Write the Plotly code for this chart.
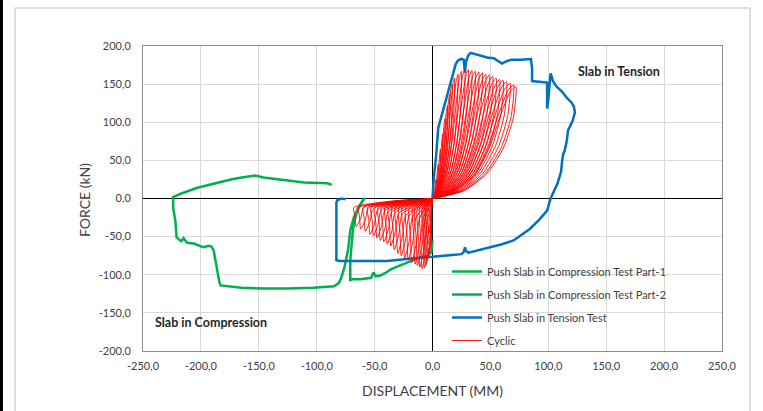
import plotly.graph_objects as go

# ---------------- data ----------------
X_TICKS = [-250, -200, -150, -100, -50, 0, 50, 100, 150, 200, 250]
X_TICK_TEXT = ["-250,0", "-200,0", "-150,0", "-100,0", "-50,0", "0,0", "50,0", "100,0", "150,0", "200,0", "250,0"]
Y_TICKS = [-200, -150, -100, -50, 0, 50, 100, 150, 200]
Y_TICK_TEXT = ["-200,0", "-150,0", "-100,0", "-50,0", "0,0", "50,0", "100,0", "150,0", "200,0"]

comp1_x = [-59, -64, -68, -71, -73, -76, -79, -81, -85, -103, -125, -146, -165, -178, -183, -184, -187, -189,
           -191, -193, -198, -206, -212, -215, -217, -221, -222, -224, -224, -217, -203, -189, -174, -165,
           -153, -146, -131, -111, -91, -87]
comp1_y = [0, -12, -25, -42, -68, -90, -105, -111, -115, -117, -118, -118, -117, -115, -114, -110, -81, -68,
           -63, -62, -64, -59, -58, -52, -56, -51, -30, -12, 2, 6.5, 14, 19.6, 25, 27.5,
           30, 27.5, 25, 21, 20, 18]

comp2_x = [-59, -65, -68, -69, -71, -71, -69, -62, -53, -51, -49, -45, -40, -36, -30, -22, -10, -4, -1, 0]
comp2_y = [1, -16, -33, -46, -81, -107, -106, -106, -104, -97, -102, -101, -97, -93, -89, -84, -77, -75, -70, -55]

tension_x = [0, 1, 3, 5, 9, 13, 16, 18, 20, 22, 25, 27, 28, 29, 31, 33, 37, 41, 47, 53, 57, 60, 64, 68, 76, 85,
             86, 86, 92, 99, 99, 99, 100, 101, 102, 104, 107, 112, 116, 120, 122, 123, 121, 117, 116, 114, 113,
             112, 111, 108, 104, 102, 99, 92, 84, 70, 60, 50, 40, 31, 29, 28, 27, 25, 10, -2, -20, -39, -60,
             -80, -83, -83, -83, -83, -82, -79, -75]
tension_y = [0, 25, 54, 93, 115, 137, 155, 168, 176, 181, 183, 182, 165, 180, 188, 191, 189, 187, 185, 184, 180,
             177, 180, 182, 182, 183, 170, 154, 153, 152, 135, 118, 130, 150, 164, 154, 147, 140, 132, 126, 121,
             113, 102, 89, 76, 62, 59, 50, 35, 20, 8, 0, -16, -28, -40, -55, -60, -64, -67, -71, -69, -64, -70,
             -73, -75, -77, -79, -82, -82, -82, -81, -60, -30, -5, -2, 0, -1]

# cyclic test: one row per cycle (positive loop, then negative loop), starting from the origin
cyc_x_rows = [
    [0.6, 1.5, 2, 2.5, 2.8, 3, 2.9, 2.6, 2, 1.1, 0, -1, -4, -3, -2, -1, -1, 0],
    [1, 2.5, 3.4, 4.1, 4.7, 5, 4.9, 4.3, 3.3, 1.9, 0, -1.5, -5, -4, -3, -1, -1, 0],
    [1.4, 3.5, 4.8, 5.7, 6.5, 7, 6.8, 6, 4.6, 2.7, 0, -2, -6, -5, -4, -1, -1, 0],
    [1.8, 4.5, 6.1, 7.4, 8.4, 9, 8.7, 7.7, 5.9, 3.4, 0, -2, -6, -5, -4, -1, -1, 0],
    [2.2, 5.5, 7.5, 9, 10.2, 11, 10.7, 9.4, 7.2, 4.2, 0, -2.5, -7, -6, -5, -1, -1, 0],
    [2.6, 6.5, 8.8, 10.7, 12.1, 13, 12.6, 11.1, 8.5, 4.9, 0, -3, -8, -7, -6, -2, -1, 0],
    [3, 7.5, 10.2, 12.3, 14, 15, 14.6, 12.8, 9.8, 5.7, 0, -3.5, -9, -8, -7, -3, -1, 0],
    [3.4, 8.5, 11.6, 13.9, 15.8, 17, 16.5, 14.5, 11.1, 6.5, 0, -4.5, -11, -10, -9, -5, -2, 0],
    [3.8, 9.5, 12.9, 15.6, 17.7, 19, 18.4, 16.2, 12.4, 7.2, 0, -5.5, -13, -12, -11, -7, -4, 0],
    [4.4, 11, 15, 18, 20.5, 22, 21.3, 18.7, 14.3, 8.4, 0, -6.5, -15, -14, -13, -9, -6, 0],
    [5, 12.5, 17, 20.5, 23.3, 25, 24.3, 21.3, 16.3, 9.5, 0, -7.5, -17, -16, -15, -11, -8, 0],
    [5.6, 14, 19, 23, 26, 28, 27.2, 23.8, 18.2, 10.6, 0, -9, -20, -19, -18, -14, -11, 0],
    [6.2, 15.5, 21.1, 25.4, 28.8, 31, 30.1, 26.4, 20.2, 11.8, 0, -10.5, -23, -22, -21, -17, -14, 0],
    [6.8, 17, 23.1, 27.9, 31.6, 34, 33, 28.9, 22.1, 12.9, 0, -12, -26, -25, -24, -20, -17, 0],
    [7.4, 18.5, 25.2, 30.3, 34.4, 37, 35.9, 31.5, 24.1, 14.1, 0, -13.5, -29, -28, -27, -23, -20, 0],
    [8, 20, 27.2, 32.8, 37.2, 40, 38.8, 34, 26, 15.2, 0, -15, -32, -31, -30, -26, -23, 0],
    [8.6, 21.5, 29.2, 35.3, 40, 43, 41.7, 36.6, 28, 16.3, 0, -16.5, -35, -34, -33, -29, -26, 0],
    [9.2, 23, 31.3, 37.7, 42.8, 46, 44.6, 39.1, 29.9, 17.5, 0, -18, -38, -37, -36, -32, -29, 0],
    [9.8, 24.5, 33.3, 40.2, 45.6, 49, 47.5, 41.7, 31.9, 18.6, 0, -19.5, -41, -40, -39, -35, -32, 0],
    [10.4, 26, 35.4, 42.6, 48.4, 52, 50.4, 44.2, 33.8, 19.8, 0, -21, -44, -43, -42, -38, -35, 0],
    [11, 27.5, 37.4, 45.1, 51.2, 55, 53.4, 46.8, 35.8, 20.9, 0, -22.5, -47, -46, -45, -41, -38, 0],
    [11.6, 29, 39.4, 47.6, 53.9, 58, 56.3, 49.3, 37.7, 22, 0, -24, -50, -49, -48, -44, -41, 0],
    [12.2, 30.5, 41.5, 50, 56.7, 61, 59.2, 51.9, 39.7, 23.2, 0, -25.5, -53, -52, -51, -47, -44, 0],
    [12.8, 32, 43.5, 52.5, 59.5, 64, 62.1, 54.4, 41.6, 24.3, 0, -27, -56, -55, -54, -50, -47, 0],
    [13.4, 33.5, 45.6, 54.9, 62.3, 67, 65, 57, 43.6, 25.5, 0, -29, -60, -59, -58, -54, -51, 0],
    [14, 35, 47.6, 57.4, 65.1, 70, 67.9, 59.5, 45.5, 26.6, 0, -31, -64, -63, -62, -58, -55, 0],
    [14.4, 36, 49, 59, 67, 72, 69.8, 61.2, 46.8, 27.4, 0, -33, -68, -67, -66, -62, -59, 0],
]
cyc_y_rows = [
    [1, 5, 11.3, 18.8, 23.8, 25, 18, 11.3, 5.5, 1.8, 0, -3, -12, -18, -30, -21, -9, 0],
    [1.8, 9, 20.3, 33.8, 42.8, 45, 32.4, 20.3, 9.9, 3.2, 0, -3, -12, -27, -45, -31, -13, 0],
    [2.6, 13, 29.3, 48.8, 61.8, 65, 46.8, 29.3, 14.3, 4.6, 0, -3, -12, -36, -60, -42, -18, 0],
    [3.4, 17, 38.3, 63.8, 80.8, 85, 61.2, 38.3, 18.7, 6, 0, -3, -12, -43, -72, -50, -22, 0],
    [4.2, 21, 47.3, 78.8, 99.8, 105, 75.6, 47.3, 23.1, 7.4, 0, -3, -12, -49, -82, -57, -25, 0],
    [4.9, 24.4, 54.9, 91.5, 115.9, 122, 87.8, 54.9, 26.8, 8.5, 0, -3, -12, -53, -88, -62, -26, 0],
    [5.5, 27.4, 61.7, 102.8, 130.2, 137, 98.6, 61.7, 30.1, 9.6, 0, -3, -12, -55, -91, -64, -27, 0],
    [6, 30, 67.5, 112.5, 142.5, 150, 108, 67.5, 33, 10.5, 0, -3, -12, -55, -92, -64, -28, 0],
    [6.3, 31.6, 71.1, 118.5, 150.1, 158, 113.8, 71.1, 34.8, 11.1, 0, -3, -12, -54, -90, -63, -27, 0],
    [6.5, 32.6, 73.4, 122.3, 154.9, 163, 117.4, 73.4, 35.9, 11.4, 0, -3, -12, -53, -88, -62, -26, 0],
    [6.7, 33.4, 75.2, 125.3, 158.7, 167, 120.2, 75.2, 36.7, 11.7, 0, -3, -12, -52, -86, -60, -26, 0],
    [6.8, 33.8, 76.1, 126.8, 160.6, 169, 121.7, 76.1, 37.2, 11.8, 0, -3, -12, -50, -84, -59, -25, 0],
    [6.8, 33.8, 76.1, 126.8, 160.6, 169, 121.7, 76.1, 37.2, 11.8, 0, -3, -12, -49, -81, -57, -24, 0],
    [6.7, 33.6, 75.6, 126, 159.6, 168, 121, 75.6, 37, 11.8, 0, -3, -12, -47, -78, -55, -23, 0],
    [6.7, 33.4, 75.2, 125.3, 158.7, 167, 120.2, 75.2, 36.7, 11.7, 0, -3, -12, -45, -75, -52, -22, 0],
    [6.6, 33.2, 74.7, 124.5, 157.7, 166, 119.5, 74.7, 36.5, 11.6, 0, -3, -12, -43, -72, -50, -22, 0],
    [6.6, 33, 74.3, 123.8, 156.8, 165, 118.8, 74.3, 36.3, 11.6, 0, -3, -12, -40, -67, -47, -20, 0],
    [6.5, 32.6, 73.4, 122.3, 154.9, 163, 117.4, 73.4, 35.9, 11.4, 0, -3, -12, -37, -62, -43, -19, 0],
    [6.5, 32.4, 72.9, 121.5, 153.9, 162, 116.6, 72.9, 35.6, 11.3, 0, -3, -12, -36, -60, -42, -18, 0],
    [6.4, 32, 72, 120, 152, 160, 115.2, 72, 35.2, 11.2, 0, -3, -12, -34, -57, -40, -17, 0],
    [6.3, 31.6, 71.1, 118.5, 150.1, 158, 113.8, 71.1, 34.8, 11.1, 0, -3, -12, -33, -55, -38.5, -16.5, 0],
    [6.2, 31.2, 70.2, 117, 148.2, 156, 112.3, 70.2, 34.3, 10.9, 0, -3, -12, -31, -52, -36, -15.6, 0],
    [6.2, 31, 69.8, 116.3, 147.3, 155, 111.6, 69.8, 34.1, 10.9, 0, -3, -12, -29, -49, -34, -15, 0],
    [6.1, 30.6, 68.9, 114.8, 145.4, 153, 110.2, 68.9, 33.7, 10.7, 0, -3, -12, -28, -47, -33, -14, 0],
    [6, 30.2, 68, 113.3, 143.5, 151, 108.7, 68, 33.2, 10.6, 0, -3, -12, -26, -43, -30, -13, 0],
    [6, 29.8, 67.1, 111.8, 141.6, 149, 107.3, 67.1, 32.8, 10.4, 0, -3, -12, -24, -40, -28, -12, 0],
    [5.9, 29.4, 66.2, 110.3, 139.7, 147, 105.8, 66.2, 32.3, 10.3, 0, -3, -12, -22, -37, -26, -11, 0],
]

SERIES_NAMES = ["Push Slab in Compression Test Part-1", "Push Slab in Compression Test Part-2",
                "Push Slab in Tension Test", "Cyclic"]
GREEN = "#00b050"
BLUE = "#0070c0"
RED = "#ff0000"
FONT = "Lato"

cyc_x = [0] + [v for row in cyc_x_rows for v in row]
cyc_y = [0] + [v for row in cyc_y_rows for v in row]

# ---------------- figure ----------------
fig = go.Figure()
fig.add_trace(go.Scatter(x=comp1_x, y=comp1_y, mode="lines", name=SERIES_NAMES[0], legendgroup="a",
                         line=dict(color=GREEN, width=2.5)))
fig.add_trace(go.Scatter(x=comp2_x, y=comp2_y, mode="lines", name=SERIES_NAMES[1], legendgroup="b",
                         line=dict(color=GREEN, width=2.5)))
fig.add_trace(go.Scatter(x=tension_x, y=tension_y, mode="lines", name=SERIES_NAMES[2], legendgroup="c",
                         line=dict(color=BLUE, width=2.5)))
fig.add_trace(go.Scatter(x=cyc_x, y=cyc_y, mode="lines", name=SERIES_NAMES[3], legendgroup="d",
                         line=dict(color=RED, width=0.9, shape="spline", smoothing=0.6)))

W, H = 763, 411
L, R, T, B = 143, 41, 46, 60
pw, ph = W - L - R, H - T - B


def px_x(p):
    return (p - L) / pw


def px_y(p):
    return (H - B - p) / ph


axis_common = dict(showgrid=True, gridcolor="#d9d9d9", gridwidth=1, zeroline=True, zerolinecolor="#000000",
                   zerolinewidth=1, showline=True, linecolor="#8c8c8c", linewidth=1, mirror=True, ticks="",
                   tickfont=dict(family=FONT, size=11, color="#404040"))

fig.update_layout(
    width=W, height=H,
    margin=dict(l=L, r=R, t=T, b=B, autoexpand=False),
    paper_bgcolor="white", plot_bgcolor="white",
    font=dict(family=FONT, size=11, color="#404040"),
    xaxis=dict(range=[-250, 250], tickvals=X_TICKS, ticktext=X_TICK_TEXT, ticklabelstandoff=5, **axis_common),
    yaxis=dict(range=[-200, 200], tickvals=Y_TICKS, ticktext=Y_TICK_TEXT, ticklabelstandoff=9, **axis_common),
    showlegend=True,
    legend=dict(x=px_x(447), y=px_y(257), xanchor="left", yanchor="top", bgcolor="rgba(0,0,0,0)",
                font=dict(family=FONT, size=11, color="#404040"), tracegroupgap=4, itemwidth=30),
    annotations=[
        dict(text="DISPLACEMENT (MM)", x=px_x(432), y=px_y(390), xref="paper", yref="paper",
             showarrow=False, font=dict(family=FONT, size=14, color="#404040"), xanchor="center", yanchor="middle"),
        dict(text="FORCE (kN)", x=px_x(85), y=px_y(200), xref="paper", yref="paper", textangle=-90,
             showarrow=False, font=dict(family=FONT, size=14, color="#404040"), xanchor="center", yanchor="middle"),
        dict(text="<b>Slab in Tension</b>", x=161, y=167, xref="x", yref="y", showarrow=False,
             font=dict(family=FONT, size=12.5, color="#262626")),
        dict(text="<b>Slab in Compression</b>", x=-191, y=-162, xref="x", yref="y", showarrow=False,
             font=dict(family=FONT, size=12.5, color="#262626")),
    ],
    shapes=[
        dict(type="rect", xref="paper", yref="paper", x0=px_x(15), x1=px_x(750), y0=px_y(420), y1=px_y(8),
             line=dict(color="#bfbfbf", width=1), layer="below"),
        dict(type="line", xref="paper", yref="paper", x0=px_x(1.5), x1=px_x(1.5), y0=px_y(0), y1=px_y(411),
             line=dict(color="#000000", width=3)),
    ],
)

fig.write_html("out.html")
